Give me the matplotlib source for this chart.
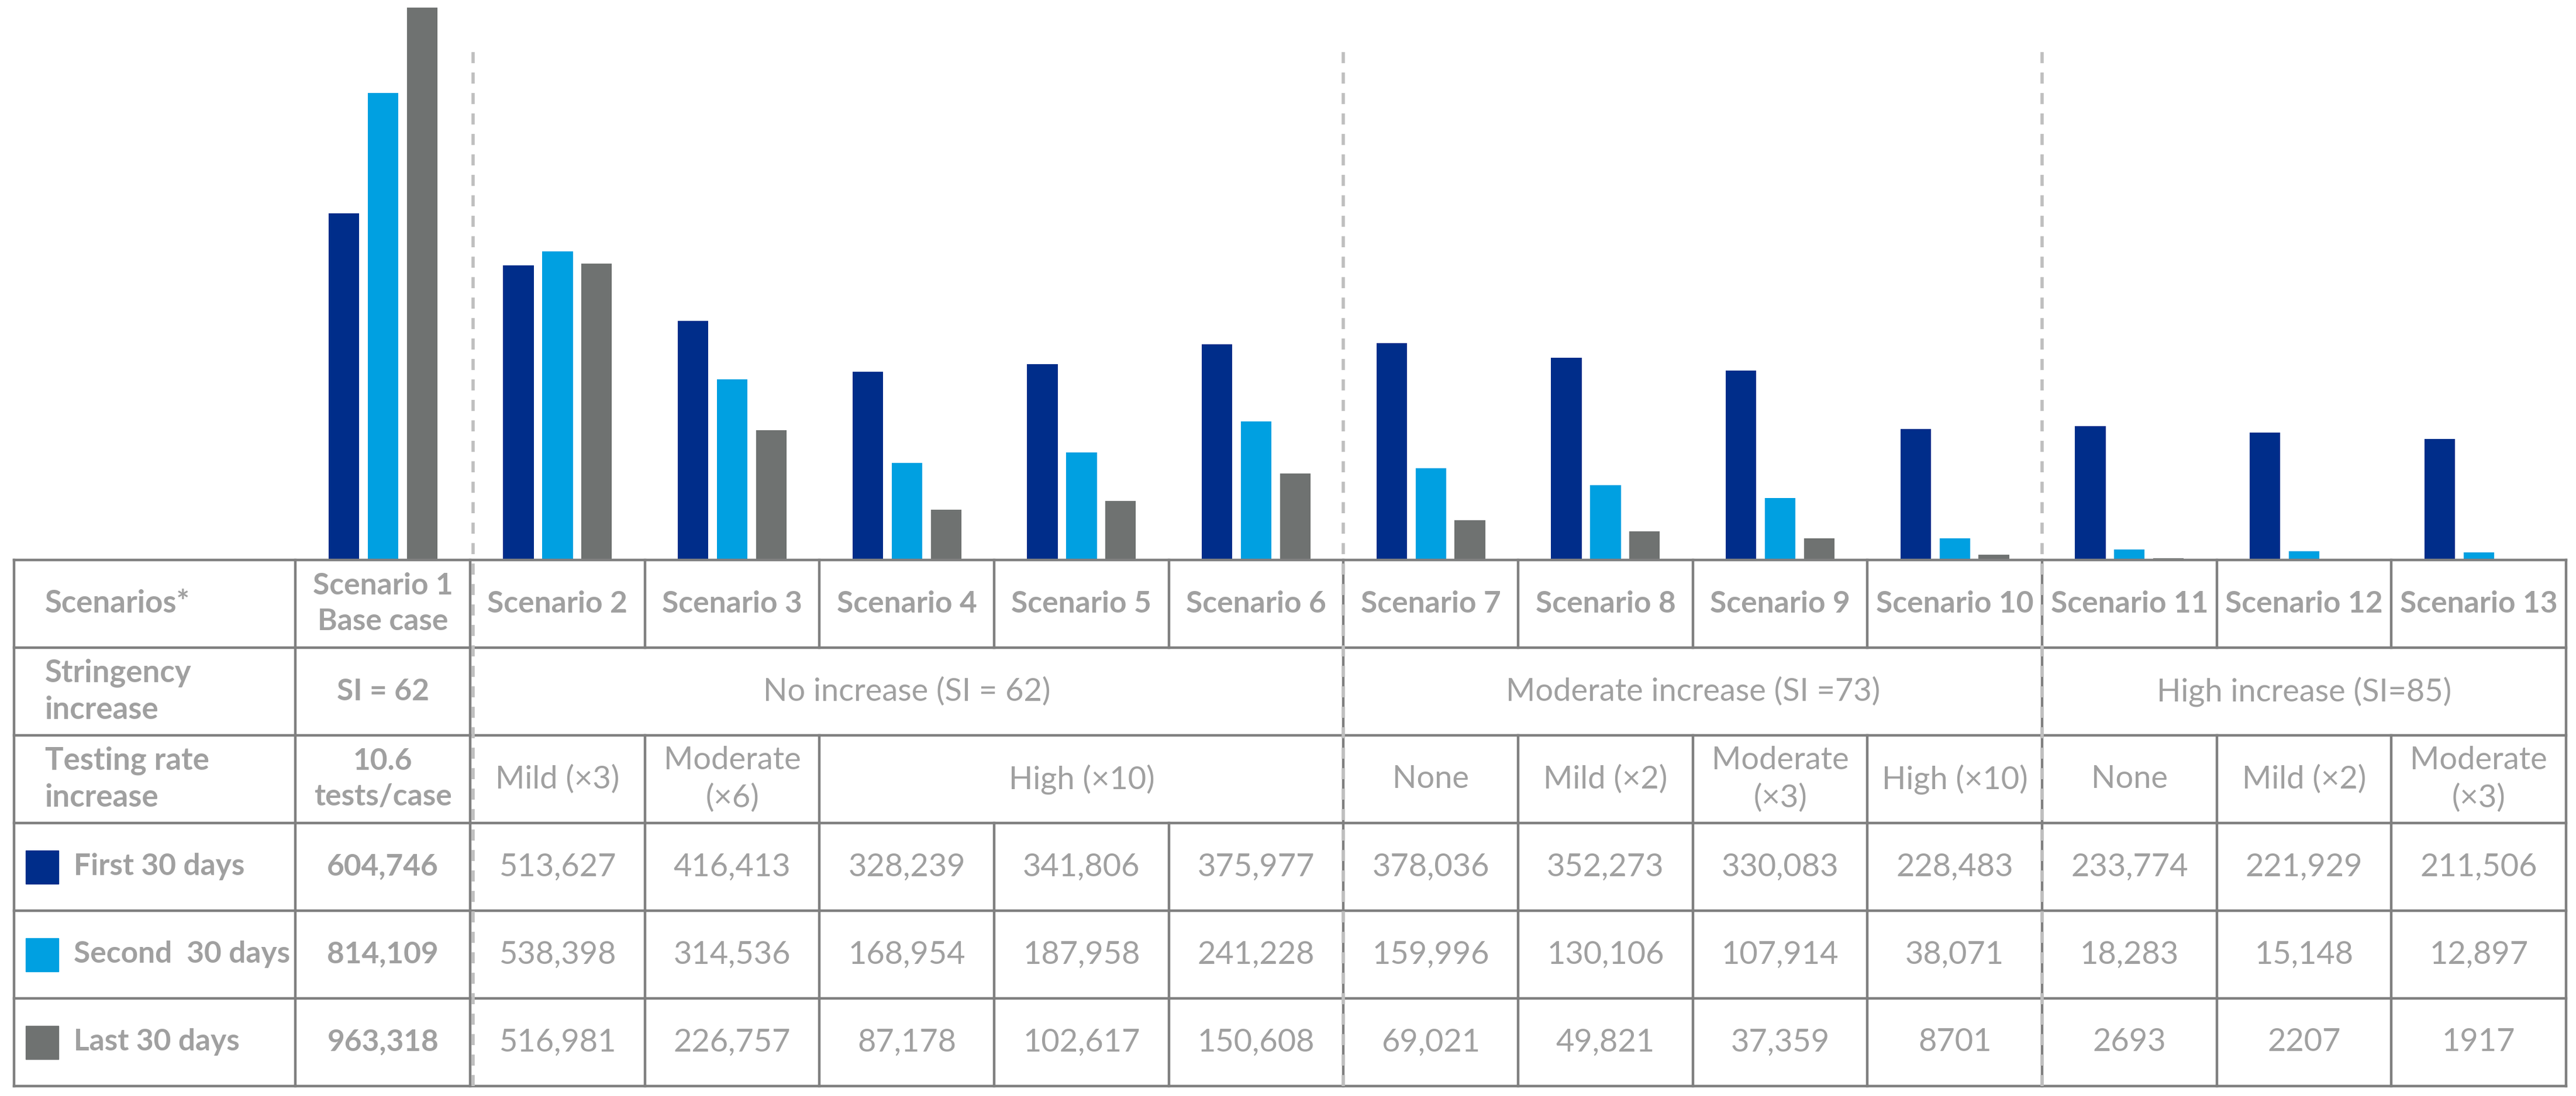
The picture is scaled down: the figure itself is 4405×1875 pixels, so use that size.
import matplotlib.pyplot as plt

plt.rcParams['font.family'] = ['Lato', 'DejaVu Sans']

scenarios = ["Scenario 1\nBase case", "Scenario 2", "Scenario 3", "Scenario 4", "Scenario 5",
             "Scenario 6", "Scenario 7", "Scenario 8", "Scenario 9", "Scenario 10",
             "Scenario 11", "Scenario 12", "Scenario 13"]
first_30 = [604746, 513627, 416413, 328239, 341806, 375977, 378036, 352273, 330083, 228483, 233774, 221929, 211506]
second_30 = [814109, 538398, 314536, 168954, 187958, 241228, 159996, 130106, 107914, 38071, 18283, 15148, 12897]
last_30 = [963318, 516981, 226757, 87178, 102617, 150608, 69021, 49821, 37359, 8701, 2693, 2207, 1917]

series_names = ["First 30 days", "Second  30 days", "Last 30 days"]
series_colors = ["#002D8A", "#00A0E1", "#6F7271"]

stringency_labels = ["SI = 62", "No increase (SI = 62)", "Moderate increase (SI =73)", "High increase (SI=85)"]
stringency_spans = [1, 5, 4, 3]
testing_labels = ["10.6\ntests/case", "Mild (×3)", "Moderate\n(×6)", "High (×10)", "None", "Mild (×2)",
                  "Moderate\n(×3)", "High (×10)", "None", "Mild (×2)", "Moderate\n(×3)"]
testing_spans = [1, 1, 1, 3, 1, 1, 1, 1, 1, 1, 1]
row_labels = ["Scenarios*", "Stringency\nincrease", "Testing rate\nincrease"]
group_breaks = [0.517, 5.5, 9.5]

TXT = "#A0A0A0"
GRID = "#808080"
FS_B = 37     # bold text
FS_R = 39     # regular text (reference is letter-spaced, so a bit wider)
n = len(scenarios)
label_w = 482 / 299          # first column width, in scenario-column units
x_left = -0.5 - label_w
x_right = n - 0.5

fig = plt.figure(figsize=(44.05, 18.75), dpi=100)
ax_bar = fig.add_axes([24 / 4405, 1 - 958 / 1875, 4364 / 4405, 958 / 1875])
ax_tab = fig.add_axes([24 / 4405, 1 - 1858 / 1875, 4364 / 4405, 900 / 1875])

# bars
off = 0.224
bw = 0.175
for k, vals in enumerate([first_30, second_30, last_30]):
    xs = [i + (k - 1) * off for i in range(n)]
    ax_bar.bar(xs, vals, width=bw, color=series_colors[k], zorder=2)
ax_bar.set_xlim(x_left, x_right)
ax_bar.set_ylim(0, 976500)
ax_bar.axis('off')

# table
ax_tab.set_xlim(x_left, x_right)
ax_tab.set_ylim(6, 0)
ax_tab.axis('off')
lw = 3.2

def vline(x, r0, r1):
    ax_tab.plot([x, x], [r0, r1], color=GRID, lw=lw, clip_on=False, solid_capstyle='projecting', zorder=3)

for r in range(7):
    ax_tab.plot([x_left, x_right], [r, r], color=GRID, lw=lw, clip_on=False, solid_capstyle='projecting', zorder=3)
for x in [x_left, -0.5, x_right]:
    vline(x, 0, 6)
for r in [0, 3, 4, 5]:
    for i in range(n - 1):
        vline(i + 0.5, r, r + 1)

def spans_to_cells(spans):
    cells = []
    start = 0
    for s in spans:
        cells.append((start, start + s - 1))
        start += s
    return cells

for row, (labels, spans) in enumerate([(stringency_labels, stringency_spans), (testing_labels, testing_spans)], start=1):
    for (a, b), lab in zip(spans_to_cells(spans), labels):
        if b < n - 1:
            vline(b + 0.5, row, row + 1)
        bold = a == 0
        ax_tab.text((a + b) / 2, row + 0.5, lab, ha='center', va='center', color=TXT,
                    fontsize=FS_B if bold else FS_R, fontweight='bold' if bold else 'normal',
                    linespacing=1.35)

for i, s in enumerate(scenarios):
    ax_tab.text(i, 0.5, s, ha='center', va='center', color=TXT, fontsize=FS_B,
                fontweight='bold', linespacing=1.35)

for r, lab in enumerate(row_labels):
    ax_tab.text(x_left + 0.177, r + 0.5, lab, ha='left', va='center', color=TXT,
                fontsize=FS_B + 1, fontweight='bold', linespacing=1.35)

for k, vals in enumerate([first_30, second_30, last_30]):
    r = 3 + k
    ax_tab.add_patch(plt.Rectangle((x_left + 0.067, r + 0.31), 0.187, 0.38, color=series_colors[k], zorder=2))
    ax_tab.text(x_left + 0.34, r + 0.5, series_names[k], ha='left', va='center', color=TXT,
                fontsize=FS_B, fontweight='bold')
    for i, v in enumerate(vals):
        txt = f"{v:,}" if v >= 10000 else str(v)
        ax_tab.text(i, r + 0.5, txt, ha='center', va='center', color=TXT,
                    fontsize=FS_B if i == 0 else FS_R,
                    fontweight='bold' if i == 0 else 'normal')

# dashed group separators running from the chart into the table
for x in group_breaks:
    ax_tab.plot([x, x], [6, -5.85], color="#BFBFBF", lw=4, ls=(0, (3.4, 2.9)), clip_on=False, zorder=4)

fig.savefig("out.png", dpi=100, facecolor='white')
